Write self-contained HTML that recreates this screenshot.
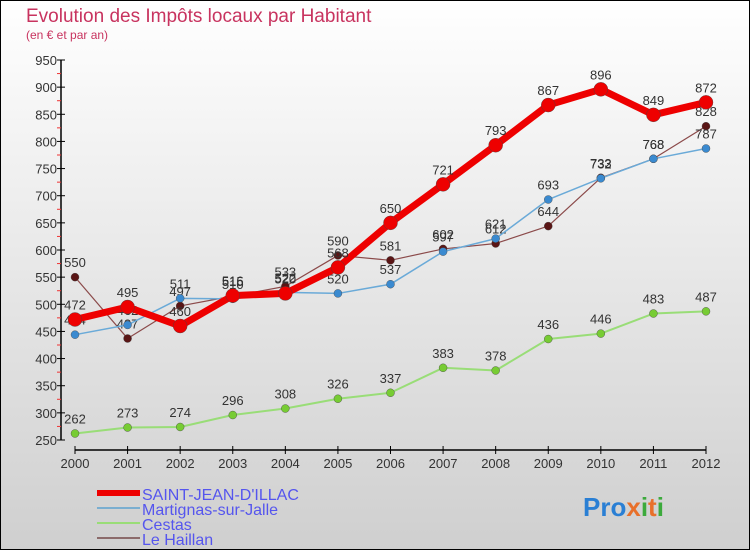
<!DOCTYPE html>
<html><head><meta charset="utf-8"><style>
body{margin:0;}
#wrap{position:relative;width:750px;height:550px;overflow:hidden;background:linear-gradient(#ffffff,#cfcfcf);font-family:"Liberation Sans",sans-serif;}
#frame{position:absolute;left:0;top:0;width:748px;height:548px;border:1px solid #000;pointer-events:none;}
</style></head><body>
<div id="wrap">
<svg id="chart" width="750" height="550" style="position:absolute;left:0;top:0">
<text x="26" y="22" font-size="19" fill="#c8335f">Evolution des Impôts locaux par Habitant</text>
<text x="26" y="39" font-size="12" fill="#c8335f">(en € et par an)</text>
<g id="axes"></g>
<g id="series"></g>
<g id="legend"></g>
<text x="583" y="516" font-size="26" font-weight="bold"><tspan fill="#2a7fd4">Pro</tspan><tspan fill="#e8702a">x</tspan><tspan fill="#2a7fd4"></tspan><tspan fill="#3caa3c">i</tspan><tspan fill="#e8702a">t</tspan><tspan fill="#3caa3c">i</tspan></text>
</svg>
<div id="frame"></div>
</div>
<script>
const years=[2000,2001,2002,2003,2004,2005,2006,2007,2008,2009,2010,2011,2012];
const yTicks=[250,300,350,400,450,500,550,600,650,700,750,800,850,900,950];
const saintJean=[472,495,460,516,520,568,650,721,793,867,896,849,872];
const martignas=[444,462,511,510,522,520,537,597,621,693,732,768,787];
const cestas=[262,273,274,296,308,326,337,383,378,436,446,483,487];
const haillan=[550,437,497,515,533,590,581,602,612,644,733,768,828];
const NS='http://www.w3.org/2000/svg';
function X(i){return 75+i*(706-75)/12;}
function Y(v){return 440-(v-250)*380/700;}
function mk(tag,attrs,parent){const e=document.createElementNS(NS,tag);for(const k in attrs)e.setAttribute(k,attrs[k]);parent.appendChild(e);return e;}
const axes=document.getElementById('axes');
let yl=mk('line',{x1:61,y1:Y(950),x2:61,y2:Y(250),stroke:'#000','stroke-width':1.5},axes);


yTicks.forEach((t,i)=>{
 mk('line',{x1:57,x2:65,y1:Y(t),y2:Y(t),stroke:'#000'},axes);
 if(i<yTicks.length-1) mk('line',{x1:57,x2:61,y1:Y(t+25),y2:Y(t+25),stroke:'#e33'},axes);
 const tx=mk('text',{x:57,y:Y(t)+5,'font-size':13,fill:'#333','text-anchor':'end'},axes);
 tx.textContent=t;
 
 
});
let xl=mk('line',{x1:X(0),x2:X(12),y1:450,y2:450,stroke:'#000','stroke-width':1.5},axes);


years.forEach((yr,i)=>{
 mk('line',{x1:X(i),x2:X(i),y1:446,y2:454,stroke:'#000'},axes);
 const tx=mk('text',{x:X(i),y:468,'font-size':13,fill:'#333','text-anchor':'middle'},axes);
 tx.textContent=yr;
 
 
});
const sg=document.getElementById('series');
function drawSeries(name,data,color,width,dot,dotColor){
 const g=mk('g',{},sg);
 
 
 mk('polyline',{points:data.map((v,i)=>X(i)+','+Y(v)).join(' '),fill:'none',stroke:color,'stroke-width':width,'stroke-linejoin':'round'},g);
 data.forEach((v,i)=>{
  const c=mk('circle',{cx:X(i),cy:Y(v),r:dot,fill:dotColor,stroke:'#444','stroke-width':0.4},g);
  
  
  const t=mk('text',{x:X(i),y:Y(v)-10,'font-size':13,fill:'#333','text-anchor':'middle'},g);
  t.textContent=v;
  
  
 });
}
drawSeries('cestas',cestas,'#99dd77',2,4,'#77cc33');
drawSeries('le-haillan',haillan,'#8b4a4a',1.2,4,'#5a1515');
drawSeries('martignas',martignas,'#6aaad8',1.5,4,'#3a8ad0');
drawSeries('saint-jean',saintJean,'#ee0000',7,7,'#ee0000');
const lg=document.getElementById('legend');
const leg=[['SAINT-JEAN-D\'ILLAC','#ee0000',6],['Martignas-sur-Jalle','#7aaed0',2],['Cestas','#99dd77',2],['Le Haillan','#8b6a6a',2]];
leg.forEach((l,i)=>{
 const y=493+i*15;
 const g=mk('g',{},lg);
 
 
 mk('line',{x1:97,x2:140,y1:y,y2:y,stroke:l[1],'stroke-width':l[2]},g);
 const t=mk('text',{x:142,y:y+7,'font-size':16,fill:'#5555ee'},g);
 t.textContent=l[0];
});
</script>
</body></html>
